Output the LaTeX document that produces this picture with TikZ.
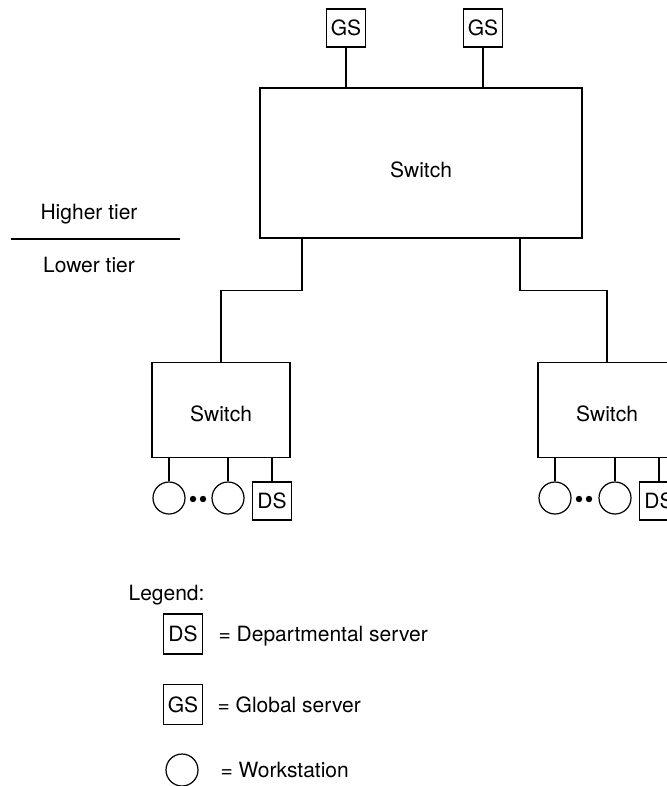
\documentclass[tikz,border=0pt]{standalone}
\usepackage{fontspec}
\setmainfont{TeX Gyre Heros}
\usetikzlibrary{positioning}

\begin{document}
\begin{tikzpicture}[x=0.5pt, y=-0.5pt, line width=0.6pt,
    font=\fontsize{10.5}{12}\selectfont,
    switchbox/.style={rectangle, draw, inner sep=0pt, text depth=0pt},
    server/.style={rectangle, draw, inner sep=0pt, minimum width=19.5pt, minimum height=19pt},
    station/.style={circle, draw, inner sep=0pt, minimum size=16pt},
    dot/.style={circle, fill, inner sep=0pt, minimum size=3.2pt},
    lbl/.style={inner sep=0pt}
]
    \useasboundingbox (0,0) rectangle (667,786);
    \clip (0,0) rectangle (667,786);

    % higher tier
    \node[switchbox, minimum width=161pt, minimum height=75pt, text height=14.5pt] (core) at (421,163) {Switch};
    \node[server] (gsA) at (346,28) {GS};
    \node[server] (gsB) at (483,28) {GS};
    \draw (gsA.south) -- (gsA.south |- core.north);
    \draw (gsB.south) -- (gsB.south |- core.north);

    % lower tier
    \node[switchbox, minimum width=69pt, minimum height=47.5pt, text height=11.5pt] (swL) at (221,410) {Switch};
    \node[switchbox, minimum width=69pt, minimum height=47.5pt, text height=11.5pt] (swR) at (607,410) {Switch};
    \path (core.south) ++(-119,0) coordinate (tapL) (core.south) ++(99,0) coordinate (tapR);
    \draw (tapL) -- ++(0,52) -| (swL.north);
    \draw (tapR) -- ++(0,52) -| (swR.north);

    \node[station] (wsL1) at (169,498) {};
    \node[station] (wsL2) at (228,498) {};
    \node[dot] at (193,499) {};
    \node[dot] at (203,499) {};
    \node[server] (dsL) at (272,501) {DS};
    \node[station] (wsR1) at (555,498) {};
    \node[station] (wsR2) at (615,498) {};
    \node[dot] at (579,499) {};
    \node[dot] at (589,499) {};
    \node[server] (dsR) at (659,501) {DS};
    \foreach \n in {wsL1,wsL2,dsL}
        \draw (\n.north) -- (\n.north |- swL.south);
    \foreach \n in {wsR1,wsR2,dsR}
        \draw (\n.north) -- (\n.north |- swR.south);

    % tier divider
    \node[lbl, anchor=base] (upper) at (89,220) {Higher tier};
    \node[lbl, anchor=base] (lower) at (89,272) {Lower tier};
    \draw (11,239) -- (180,239);

    % legend
    \node[lbl, anchor=base west] (legend) at (128,600) {Legend:};
    \node[server, minimum height=20pt] (keyDS) at (183,634) {DS};
    \node[lbl, anchor=base west] at (218,641) {= Departmental server};
    \node[server, minimum height=20pt] (keyGS) at (183,704.5) {GS};
    \node[lbl, anchor=base west] at (217,712) {= Global server};
    \node[station] (keyWS) at (182,770) {};
    \node[lbl, anchor=base west] at (220,777) {= Workstation};
\end{tikzpicture}
\end{document}
